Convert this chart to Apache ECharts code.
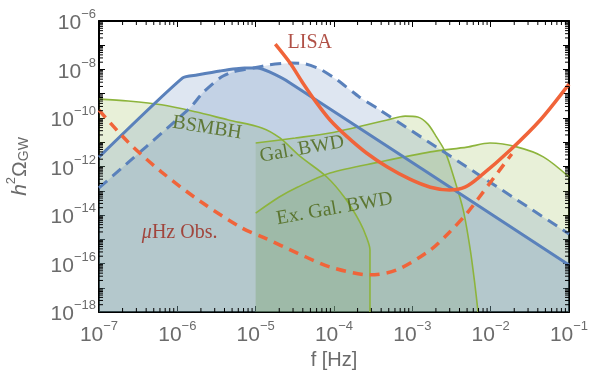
<!DOCTYPE html>
<html><head><meta charset="utf-8">
<script src="https://cdn.jsdelivr.net/npm/echarts@6/dist/echarts.min.js"></script>
<style>html,body{margin:0;padding:0;background:#fff}#c{width:590px;height:377px}</style>
</head><body><div id="c"></div>
<script>
// ---- data (frequency [Hz], h^2 Omega_GW) ----
const xExpMin = -7, xExpMax = -1;
const yExpMin = -18, yExpMax = -6;

const bsmbh = [[1e-7,6.0e-10],[2.35e-7,5.0e-10],[6.3e-7,3.5e-10],[1.7e-6,1.8e-10],[4.5e-6,8.3e-11],[1.2e-5,3.9e-11],[2.04e-5,1.5e-11],[3.7e-5,2.6e-12],[8.1e-5,3.7e-13],[1.38e-4,5.0e-14],[2.14e-4,5.1e-15],[2.63e-4,1.1e-15],[2.88e-4,3.6e-16],[2.88e-4,1e-18]];
const galBwd = [[1e-5,9.3e-12],[3.2e-5,1.5e-11],[8.9e-5,2.4e-11],[4.8e-4,8.3e-11],[8.1e-4,1.2e-10],[1.17e-3,1.1e-10],[1.58e-3,5.6e-11],[2.0e-3,1.8e-11],[2.63e-3,4.0e-12],[3.47e-3,2.75e-13],[4.47e-3,1.6e-14],[5.5e-3,3.6e-16],[6.3e-3,1.3e-17],[6.9e-3,1e-18]];
const exGalBwd = [[1e-5,1.2e-14],[2.0e-5,5.5e-14],[3.4e-5,1.4e-13],[8.9e-5,5.4e-13],[3.9e-4,1.55e-12],[1.7e-3,4.0e-12],[5.0e-3,6.3e-12],[9.8e-3,9.3e-12],[2.2e-2,6.3e-12],[4.7e-2,2.5e-12],[1e-1,3.7e-13]];
const blueSolid = [[1e-7,2.45e-12],[1.17e-6,4.5e-9],[1.78e-6,5.9e-9],[3.5e-6,8.7e-9],[7.2e-6,1.15e-8],[1.05e-5,1.15e-8],[1.5e-5,7.9e-9],[2.75e-5,2.8e-9],[1e-1,8.7e-17]];
const blueDashed = [[1e-7,1.3e-13],[1.45e-6,2.6e-10],[2.1e-6,1.07e-9],[3.5e-6,4.5e-9],[5.1e-6,7.9e-9],[9.3e-6,1.15e-8],[1.5e-5,1.55e-8],[2.75e-5,1.86e-8],[4.3e-5,1.7e-8],[6.6e-5,1.05e-8],[1.1e-4,3.7e-9],[2.1e-4,7.4e-10],[3.5e-4,2.6e-10],[1e-1,1.66e-15]];
const lisa = [[1.78e-5,1.12e-7],[2.75e-5,1.86e-8],[4.0e-5,2.8e-9],[6.0e-5,4.2e-10],[8.9e-5,8.3e-11],[1.48e-4,1.66e-11],[2.6e-4,3.6e-12],[4.8e-4,9.5e-13],[9.3e-4,3.0e-13],[1.7e-3,1.4e-13],[3.0e-3,1.07e-13],[4.7e-3,1.4e-13],[7.2e-3,3.7e-13],[1.78e-2,4.8e-12],[4.3e-2,8.3e-11],[1e-1,2.5e-9]];
const muHz = [[1e-7,2.1e-10],[2.35e-7,1.02e-11],[6.3e-7,5.9e-13],[2.0e-6,3.5e-14],[6.7e-6,2.9e-15],[1.23e-5,1.23e-15],[3.4e-5,2.7e-16],[8.9e-5,7.2e-17],[2.9e-4,3.4e-17],[6.3e-4,5.4e-17],[1.7e-3,3.6e-16],[3.0e-3,2.0e-15],[5.0e-3,1.2e-14],[9.8e-3,2.1e-13],[1.86e-2,3.3e-12]];

const labelTexts = ['LISA', 'BSMBH', 'Gal. BWD', 'Ex. Gal. BWD', '{it|μ}Hz Obs.'];
const labelAnchors = [[4.9e-5,1.23e-7],[2.4e-6,3.9e-11],[3.9e-5,5.2e-12],[1.02e-4,1.8e-14],[1.07e-6,1.8e-15]];
const labelRot = [0, -9, 10, 10, 0];
const labelColors = ['#9c2418', '#4a6412', '#4a6412', '#4a6412', '#9c2418'];

// ---- styles ----
const BLUE = '#5a81bb', GREEN = '#8db43c', ORANGE = '#f0643a';
const xMin = Math.pow(10, xExpMin), xMax = Math.pow(10, xExpMax);
const yMin = Math.pow(10, yExpMin), yMax = Math.pow(10, yExpMax);

// minor tick values (2..9 x 10^k)
const minorX = [], minorY = [];
for (let e = xExpMin; e < xExpMax; e++) for (let m = 2; m <= 9; m++) minorX.push(m * Math.pow(10, e));
for (let e = yExpMin; e < yExpMax; e++) for (let m = 2; m <= 9; m++) minorY.push(m * Math.pow(10, e));

function expLabel(v) {
  const e = Math.round(Math.log10(v));
  return '{b|10}{s|' + (e < 0 ? '\u2212' + (-e) : e) + '}';
}
const tickRich = {
  b: {fontSize: 21, fontFamily: 'Liberation Sans', color: '#6b6b6b', lineHeight: 26, verticalAlign: 'bottom'},
  s: {fontSize: 13, fontFamily: 'Liberation Sans', color: '#6b6b6b', lineHeight: 13, verticalAlign: 'top'}
};

function fillSeries(data, color) {
  return {type: 'line', data, symbol: 'none', silent: true, smooth: false,
    lineStyle: {width: 0, opacity: 0}, areaStyle: {color, opacity: 0.2, origin: 'start'}, z: 1};
}
function lineSeries(data, color, width, dash, smooth) {
  return {type: 'line', data, symbol: 'none', silent: true, smooth: smooth || false,
    lineStyle: {color, width, type: dash || 'solid', cap: 'butt'}, z: 3};
}

const axisCommon = {
  axisLine: {show: true, lineStyle: {color: '#000', width: 2}},
  axisTick: {show: true, inside: true, length: 6, lineStyle: {color: '#000', width: 1}},
  splitLine: {show: false}
};

const option = {
  animation: false,
  backgroundColor: '#fff',
  grid: {left: 99, right: 21, top: 21, bottom: 65, outerBoundsMode: 'none'},
  xAxis: [
    Object.assign({type: 'log', min: xMin, max: xMax, interval: 1, position: 'bottom',
      name: 'f [Hz]', nameLocation: 'middle', nameGap: 37,
      nameTextStyle: {fontSize: 20, fontFamily: 'Liberation Sans', color: '#6b6b6b'},
      axisLabel: {margin: 8, formatter: expLabel, rich: tickRich}}, axisCommon),
    Object.assign({type: 'log', min: xMin, max: xMax, interval: 1, position: 'top',
      axisLabel: {show: false}}, axisCommon)
  ],
  yAxis: [
    Object.assign({type: 'log', min: yMin, max: yMax, interval: 1, position: 'left',
      name: '{i|h}{sup|2}{o|Ω}{sub|GW}', nameLocation: 'middle', nameGap: 68, nameRotate: 90,
      nameTextStyle: {rich: {
        i: {fontSize: 21, fontStyle: 'italic', fontFamily: 'Liberation Sans', color: '#6b6b6b', lineHeight: 26, verticalAlign: 'bottom'},
        sup: {fontSize: 13, fontFamily: 'Liberation Sans', color: '#6b6b6b', lineHeight: 13, verticalAlign: 'top'},
        o: {fontSize: 21, fontFamily: 'Liberation Sans', color: '#6b6b6b', lineHeight: 26, verticalAlign: 'bottom'},
        sub: {fontSize: 14, fontFamily: 'Liberation Sans', color: '#6b6b6b', lineHeight: 14, verticalAlign: 'bottom'}
      }},
      axisLabel: {margin: 3, formatter: function (v) {
        const e = Math.round(Math.log10(v));
        return (e % 2 === 0) ? expLabel(v) : '';
      }, rich: tickRich}}, axisCommon),
    Object.assign({type: 'log', min: yMin, max: yMax, interval: 1, position: 'right',
      axisLabel: {show: false}}, axisCommon)
  ],
  series: [
    fillSeries(bsmbh, GREEN),
    fillSeries(galBwd, GREEN),
    fillSeries(exGalBwd, GREEN),
    fillSeries(blueSolid, BLUE),
    fillSeries(blueDashed, BLUE),
    lineSeries(bsmbh, GREEN, 1.6, 'solid', 0.3),
    lineSeries(galBwd, GREEN, 1.6, 'solid', 0.3),
    lineSeries(exGalBwd, GREEN, 1.6, 'solid', 0.3),
    lineSeries(blueSolid, BLUE, 3, 'solid', 0.2),
    lineSeries(blueDashed, BLUE, 3, [11, 7], 0.2),
    Object.assign(lineSeries(lisa, ORANGE, 3.5, 'solid', 0.3), {z: 4}),
    Object.assign(lineSeries(muHz, ORANGE, 3.5, [10, 7], 0.3), {z: 4}),
    {
      type: 'scatter', silent: true, symbolSize: 0, z: 5,
      data: labelAnchors.map((p, i) => ({
        value: p,
        label: {show: true, position: 'inside', formatter: labelTexts[i], rotate: labelRot[i],
          fontFamily: 'Liberation Serif', fontSize: 20, color: labelColors[i],
          rich: {it: {fontFamily: 'Liberation Serif', fontStyle: 'italic', fontSize: 20, color: labelColors[i]}}}
      }))
    }
  ]
};
const chart = echarts.init(document.getElementById('c'), null, {renderer: 'canvas'});
chart.setOption(option);

// minor log ticks placed through the chart's own axis scales
const L = 4;
const els = [];
const tickStyle = {stroke: '#000', lineWidth: 1};
minorX.forEach(v => {
  const b = chart.convertToPixel({gridIndex: 0}, [v, yMin]);
  const t = chart.convertToPixel({gridIndex: 0}, [v, yMax]);
  if (!b || !t) return;
  els.push({type: 'line', silent: true, z: 100, shape: {x1: b[0], y1: b[1], x2: b[0], y2: b[1] - L}, style: tickStyle});
  els.push({type: 'line', silent: true, z: 100, shape: {x1: t[0], y1: t[1], x2: t[0], y2: t[1] + L}, style: tickStyle});
});
minorY.forEach(v => {
  const l = chart.convertToPixel({gridIndex: 0}, [xMin, v]);
  const r = chart.convertToPixel({gridIndex: 0}, [xMax, v]);
  if (!l || !r) return;
  els.push({type: 'line', silent: true, z: 100, shape: {x1: l[0], y1: l[1], x2: l[0] + L, y2: l[1]}, style: tickStyle});
  els.push({type: 'line', silent: true, z: 100, shape: {x1: r[0], y1: r[1], x2: r[0] - L, y2: r[1]}, style: tickStyle});
});
chart.setOption({graphic: {elements: els}});
</script></body></html>
